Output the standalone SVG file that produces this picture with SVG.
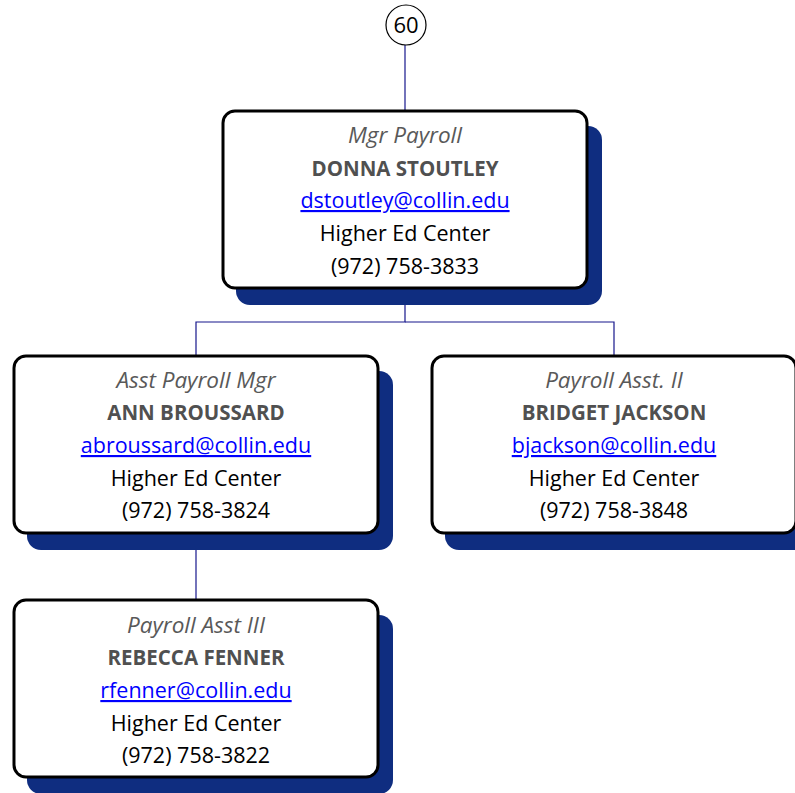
<svg xmlns="http://www.w3.org/2000/svg" width="795" height="793" viewBox="0 0 795 793">
<style>
.shadow{fill:#0f2d80}
.box{fill:#fff;stroke:#000;stroke-width:3}
.conn{stroke:#16168c;stroke-width:1.2;fill:none}
text{font-family:"Open Sans","Liberation Sans",Arial,sans-serif;font-size:21.5px;text-anchor:middle;fill:#000}
.t{font-style:italic;fill:#595959;font-size:22.5px}
.n{font-weight:bold;fill:#505050;font-size:20.5px}
.e{fill:#0000ff;text-decoration:underline}
.c{font-size:22px}
</style>
<g id="connectors">
<line class="conn" x1="405" y1="45" x2="405" y2="111"/>
<polyline class="conn" points="405,289 405,322 196,322 196,355"/>
<polyline class="conn" points="405,322 614,322 614,355"/>
<line class="conn" x1="196" y1="533" x2="196" y2="600"/>
</g>
<g id="ref60">
<circle cx="406" cy="25" r="20" fill="#fff" stroke="#000" stroke-width="1.2"/>
<text class="c" x="406" y="33">60</text>
</g>
<g id="donna">
<rect class="shadow" x="236" y="126" width="366" height="179" rx="14"/>
<rect class="box" x="223" y="111" width="364" height="177" rx="12"/>
<text class="t" x="405" y="143">Mgr Payroll</text>
<text class="n" x="405" y="176">DONNA STOUTLEY</text>
<text class="e" x="405" y="208">dstoutley@collin.edu</text>
<text x="405" y="241">Higher Ed Center</text>
<text x="405" y="274">(972) 758-3833</text>
</g>
<g id="ann">
<rect class="shadow" x="27" y="371" width="366" height="179" rx="14"/>
<rect class="box" x="14" y="356" width="364" height="177" rx="12"/>
<text class="t" x="196" y="388">Asst Payroll Mgr</text>
<text class="n" x="196" y="420">ANN BROUSSARD</text>
<text class="e" x="196" y="453">abroussard@collin.edu</text>
<text x="196" y="486">Higher Ed Center</text>
<text x="196" y="518">(972) 758-3824</text>
</g>
<g id="bridget">
<rect class="shadow" x="445" y="371" width="366" height="179" rx="14"/>
<rect class="box" x="432" y="356" width="364" height="177" rx="12"/>
<text class="t" x="614" y="388">Payroll Asst. II</text>
<text class="n" x="614" y="420">BRIDGET JACKSON</text>
<text class="e" x="614" y="453">bjackson@collin.edu</text>
<text x="614" y="486">Higher Ed Center</text>
<text x="614" y="518">(972) 758-3848</text>
</g>
<g id="rebecca">
<rect class="shadow" x="27" y="615" width="366" height="179" rx="14"/>
<rect class="box" x="14" y="600" width="364" height="177" rx="12"/>
<text class="t" x="196" y="633">Payroll Asst III</text>
<text class="n" x="196" y="665">REBECCA FENNER</text>
<text class="e" x="196" y="698">rfenner@collin.edu</text>
<text x="196" y="731">Higher Ed Center</text>
<text x="196" y="763">(972) 758-3822</text>
</g>
</svg>
